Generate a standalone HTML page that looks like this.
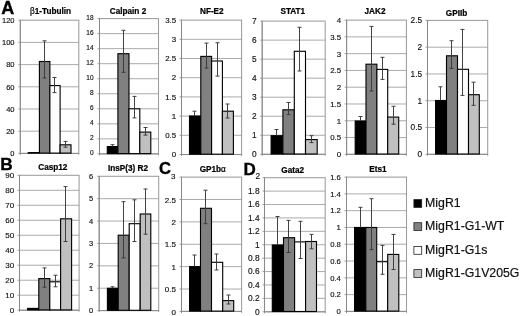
<!DOCTYPE html>
<html><head><meta charset="utf-8"><title>Figure</title>
<style>
html,body{margin:0;padding:0;background:#fff;}
body{width:520px;height:316px;overflow:hidden;font-family:"Liberation Sans",sans-serif;}
svg{display:block;filter:blur(0.3px);}
svg text{font-family:"Liberation Sans",sans-serif;}
.t{font-size:8.2px;font-weight:bold;fill:#000;stroke:#000;stroke-width:0.22px;text-anchor:middle;}
.a{fill:#111;stroke:#111;stroke-width:0.15px;text-anchor:end;}
.p{font-weight:bold;fill:#000;stroke:#000;stroke-width:0.35px;}
.l{font-size:12.3px;fill:#111;stroke:#111;stroke-width:0.2px;}
</style></head>
<body>
<svg width="520" height="316" viewBox="0 0 520 316">
<rect x="0" y="0" width="520" height="316" fill="#fff"/>
<g>
<rect x="20.3" y="20.2" width="58.5" height="133.2" fill="#fff" stroke="#9c9c9c" stroke-width="1.05"/>
<line x1="18.3" y1="20.2" x2="20.3" y2="20.2" stroke="#878787" stroke-width="0.8"/>
<text class="a" x="14.5" y="23" font-size="7.5">120</text>
<line x1="20.3" y1="42.4" x2="78.8" y2="42.4" stroke="#969696" stroke-width="0.8"/>
<line x1="18.3" y1="42.4" x2="20.3" y2="42.4" stroke="#878787" stroke-width="0.8"/>
<text class="a" x="14.5" y="45.2" font-size="7.5">100</text>
<line x1="20.3" y1="64.6" x2="78.8" y2="64.6" stroke="#969696" stroke-width="0.8"/>
<line x1="18.3" y1="64.6" x2="20.3" y2="64.6" stroke="#878787" stroke-width="0.8"/>
<text class="a" x="14.5" y="67.4" font-size="7.5">80</text>
<line x1="20.3" y1="86.8" x2="78.8" y2="86.8" stroke="#969696" stroke-width="0.8"/>
<line x1="18.3" y1="86.8" x2="20.3" y2="86.8" stroke="#878787" stroke-width="0.8"/>
<text class="a" x="14.5" y="89.6" font-size="7.5">60</text>
<line x1="20.3" y1="109" x2="78.8" y2="109" stroke="#969696" stroke-width="0.8"/>
<line x1="18.3" y1="109" x2="20.3" y2="109" stroke="#878787" stroke-width="0.8"/>
<text class="a" x="14.5" y="111.8" font-size="7.5">40</text>
<line x1="20.3" y1="131.2" x2="78.8" y2="131.2" stroke="#969696" stroke-width="0.8"/>
<line x1="18.3" y1="131.2" x2="20.3" y2="131.2" stroke="#878787" stroke-width="0.8"/>
<text class="a" x="14.5" y="134" font-size="7.5">20</text>
<line x1="18.3" y1="153.4" x2="20.3" y2="153.4" stroke="#878787" stroke-width="0.8"/>
<text class="a" x="14.5" y="156.2" font-size="7.5">0</text>
<line x1="20.3" y1="20.2" x2="20.3" y2="154.9" stroke="#878787" stroke-width="0.9"/>
<line x1="20.3" y1="153.4" x2="78.8" y2="153.4" stroke="#878787" stroke-width="0.9"/>
<line x1="78.8" y1="153.4" x2="78.8" y2="154.9" stroke="#878787" stroke-width="0.8"/>
<rect x="28.2" y="152.6" width="11.2" height="0.5" fill="#000000" stroke="#000" stroke-width="1.12"/>
<rect x="39.4" y="61.5" width="10.5" height="91.6" fill="#808080" stroke="#000" stroke-width="1.12"/>
<rect x="49.9" y="85.6" width="10.2" height="67.5" fill="#ffffff" stroke="#000" stroke-width="1.12"/>
<rect x="60.1" y="144.8" width="10.9" height="8.3" fill="#c0c0c0" stroke="#000" stroke-width="1.12"/>
<path d="M44.5 40.8V78M42.5 40.8H46.5M42.5 78H46.5" fill="none" stroke="#383838" stroke-width="0.95"/>
<path d="M54.5 77.5V92.6M52.5 77.5H56.5M52.5 92.6H56.5" fill="none" stroke="#383838" stroke-width="0.95"/>
<path d="M65.5 141.4V147.2M63.5 141.4H67.5M63.5 147.2H67.5" fill="none" stroke="#383838" stroke-width="0.95"/>
<text class="t" x="50.5" y="14.3"><tspan font-weight='normal'>β</tspan>1-Tubulin</text>
</g>
<g>
<rect x="99.5" y="18.6" width="59" height="135.3" fill="#fff" stroke="#9c9c9c" stroke-width="1.05"/>
<line x1="97.5" y1="18.6" x2="99.5" y2="18.6" stroke="#878787" stroke-width="0.8"/>
<text class="a" x="93.6" y="20" font-size="6.5">18</text>
<line x1="99.5" y1="33.63" x2="158.5" y2="33.63" stroke="#969696" stroke-width="0.8"/>
<line x1="97.5" y1="33.63" x2="99.5" y2="33.63" stroke="#878787" stroke-width="0.8"/>
<text class="a" x="93.6" y="35.03" font-size="6.5">16</text>
<line x1="99.5" y1="48.67" x2="158.5" y2="48.67" stroke="#969696" stroke-width="0.8"/>
<line x1="97.5" y1="48.67" x2="99.5" y2="48.67" stroke="#878787" stroke-width="0.8"/>
<text class="a" x="93.6" y="50.07" font-size="6.5">14</text>
<line x1="99.5" y1="63.7" x2="158.5" y2="63.7" stroke="#969696" stroke-width="0.8"/>
<line x1="97.5" y1="63.7" x2="99.5" y2="63.7" stroke="#878787" stroke-width="0.8"/>
<text class="a" x="93.6" y="65.1" font-size="6.5">12</text>
<line x1="99.5" y1="78.73" x2="158.5" y2="78.73" stroke="#969696" stroke-width="0.8"/>
<line x1="97.5" y1="78.73" x2="99.5" y2="78.73" stroke="#878787" stroke-width="0.8"/>
<text class="a" x="93.6" y="80.13" font-size="6.5">10</text>
<line x1="99.5" y1="93.77" x2="158.5" y2="93.77" stroke="#969696" stroke-width="0.8"/>
<line x1="97.5" y1="93.77" x2="99.5" y2="93.77" stroke="#878787" stroke-width="0.8"/>
<text class="a" x="93.6" y="95.17" font-size="6.5">8</text>
<line x1="99.5" y1="108.8" x2="158.5" y2="108.8" stroke="#969696" stroke-width="0.8"/>
<line x1="97.5" y1="108.8" x2="99.5" y2="108.8" stroke="#878787" stroke-width="0.8"/>
<text class="a" x="93.6" y="110.2" font-size="6.5">6</text>
<line x1="99.5" y1="123.83" x2="158.5" y2="123.83" stroke="#969696" stroke-width="0.8"/>
<line x1="97.5" y1="123.83" x2="99.5" y2="123.83" stroke="#878787" stroke-width="0.8"/>
<text class="a" x="93.6" y="125.23" font-size="6.5">4</text>
<line x1="99.5" y1="138.87" x2="158.5" y2="138.87" stroke="#969696" stroke-width="0.8"/>
<line x1="97.5" y1="138.87" x2="99.5" y2="138.87" stroke="#878787" stroke-width="0.8"/>
<text class="a" x="93.6" y="140.27" font-size="6.5">2</text>
<line x1="97.5" y1="153.9" x2="99.5" y2="153.9" stroke="#878787" stroke-width="0.8"/>
<text class="a" x="93.6" y="155.3" font-size="6.5">0</text>
<line x1="99.5" y1="18.6" x2="99.5" y2="155.4" stroke="#878787" stroke-width="0.9"/>
<line x1="99.5" y1="153.9" x2="158.5" y2="153.9" stroke="#878787" stroke-width="0.9"/>
<line x1="158.5" y1="153.9" x2="158.5" y2="155.4" stroke="#878787" stroke-width="0.8"/>
<rect x="107.3" y="146.6" width="10.6" height="7" fill="#000000" stroke="#000" stroke-width="1.12"/>
<rect x="117.9" y="53.7" width="11.1" height="99.9" fill="#808080" stroke="#000" stroke-width="1.12"/>
<rect x="129" y="108.8" width="10.8" height="44.8" fill="#ffffff" stroke="#000" stroke-width="1.12"/>
<rect x="139.8" y="132.1" width="11" height="21.5" fill="#c0c0c0" stroke="#000" stroke-width="1.12"/>
<path d="M112.5 144.7V146.6M110.5 144.7H114.5" fill="none" stroke="#383838" stroke-width="0.95"/>
<path d="M123.5 30.3V72.3M121.5 30.3H125.5M121.5 72.3H125.5" fill="none" stroke="#383838" stroke-width="0.95"/>
<path d="M134.5 96.4V117.9M132.5 96.4H136.5M132.5 117.9H136.5" fill="none" stroke="#383838" stroke-width="0.95"/>
<path d="M145.5 127.5V135.1M143.5 127.5H147.5M143.5 135.1H147.5" fill="none" stroke="#383838" stroke-width="0.95"/>
<text class="t" x="128" y="14.2">Calpain 2</text>
</g>
<g>
<rect x="181.5" y="20.1" width="60.1" height="134.4" fill="#fff" stroke="#9c9c9c" stroke-width="1.05"/>
<line x1="179.5" y1="20.1" x2="181.5" y2="20.1" stroke="#878787" stroke-width="0.8"/>
<text class="a" x="176.2" y="22.8" font-size="7.9">3.5</text>
<line x1="181.5" y1="39.3" x2="241.6" y2="39.3" stroke="#969696" stroke-width="0.8"/>
<line x1="179.5" y1="39.3" x2="181.5" y2="39.3" stroke="#878787" stroke-width="0.8"/>
<text class="a" x="176.2" y="42" font-size="7.9">3</text>
<line x1="181.5" y1="58.5" x2="241.6" y2="58.5" stroke="#969696" stroke-width="0.8"/>
<line x1="179.5" y1="58.5" x2="181.5" y2="58.5" stroke="#878787" stroke-width="0.8"/>
<text class="a" x="176.2" y="61.2" font-size="7.9">2.5</text>
<line x1="181.5" y1="77.7" x2="241.6" y2="77.7" stroke="#969696" stroke-width="0.8"/>
<line x1="179.5" y1="77.7" x2="181.5" y2="77.7" stroke="#878787" stroke-width="0.8"/>
<text class="a" x="176.2" y="80.4" font-size="7.9">2</text>
<line x1="181.5" y1="96.9" x2="241.6" y2="96.9" stroke="#969696" stroke-width="0.8"/>
<line x1="179.5" y1="96.9" x2="181.5" y2="96.9" stroke="#878787" stroke-width="0.8"/>
<text class="a" x="176.2" y="99.6" font-size="7.9">1.5</text>
<line x1="181.5" y1="116.1" x2="241.6" y2="116.1" stroke="#969696" stroke-width="0.8"/>
<line x1="179.5" y1="116.1" x2="181.5" y2="116.1" stroke="#878787" stroke-width="0.8"/>
<text class="a" x="176.2" y="118.8" font-size="7.9">1</text>
<line x1="181.5" y1="135.3" x2="241.6" y2="135.3" stroke="#969696" stroke-width="0.8"/>
<line x1="179.5" y1="135.3" x2="181.5" y2="135.3" stroke="#878787" stroke-width="0.8"/>
<text class="a" x="176.2" y="138" font-size="7.9">0.5</text>
<line x1="179.5" y1="154.5" x2="181.5" y2="154.5" stroke="#878787" stroke-width="0.8"/>
<text class="a" x="176.2" y="157.2" font-size="7.9">0</text>
<line x1="181.5" y1="20.1" x2="181.5" y2="156" stroke="#878787" stroke-width="0.9"/>
<line x1="181.5" y1="154.5" x2="241.6" y2="154.5" stroke="#878787" stroke-width="0.9"/>
<line x1="241.6" y1="154.5" x2="241.6" y2="156" stroke="#878787" stroke-width="0.8"/>
<rect x="189.5" y="116" width="11.3" height="38.2" fill="#000000" stroke="#000" stroke-width="1.12"/>
<rect x="200.8" y="56.4" width="10.8" height="97.8" fill="#808080" stroke="#000" stroke-width="1.12"/>
<rect x="211.6" y="61" width="10.8" height="93.2" fill="#ffffff" stroke="#000" stroke-width="1.12"/>
<rect x="222.4" y="111.2" width="11" height="43" fill="#c0c0c0" stroke="#000" stroke-width="1.12"/>
<path d="M194.5 111.2V116M192.5 111.2H196.5" fill="none" stroke="#383838" stroke-width="0.95"/>
<path d="M206.5 43.1V68M204.5 43.1H208.5M204.5 68H208.5" fill="none" stroke="#383838" stroke-width="0.95"/>
<path d="M217.5 42.7V76.1M215.5 42.7H219.5M215.5 76.1H219.5" fill="none" stroke="#383838" stroke-width="0.95"/>
<path d="M227.5 104V118M225.5 104H229.5M225.5 118H229.5" fill="none" stroke="#383838" stroke-width="0.95"/>
<text class="t" x="211.8" y="13.8">NF-E2</text>
</g>
<g>
<rect x="262.2" y="21.1" width="63" height="133.2" fill="#fff" stroke="#9c9c9c" stroke-width="1.05"/>
<line x1="260.2" y1="21.1" x2="262.2" y2="21.1" stroke="#878787" stroke-width="0.8"/>
<text class="a" x="256.5" y="23.7" font-size="8.3">7</text>
<line x1="262.2" y1="40.13" x2="325.2" y2="40.13" stroke="#969696" stroke-width="0.8"/>
<line x1="260.2" y1="40.13" x2="262.2" y2="40.13" stroke="#878787" stroke-width="0.8"/>
<text class="a" x="256.5" y="42.73" font-size="8.3">6</text>
<line x1="262.2" y1="59.16" x2="325.2" y2="59.16" stroke="#969696" stroke-width="0.8"/>
<line x1="260.2" y1="59.16" x2="262.2" y2="59.16" stroke="#878787" stroke-width="0.8"/>
<text class="a" x="256.5" y="61.76" font-size="8.3">5</text>
<line x1="262.2" y1="78.19" x2="325.2" y2="78.19" stroke="#969696" stroke-width="0.8"/>
<line x1="260.2" y1="78.19" x2="262.2" y2="78.19" stroke="#878787" stroke-width="0.8"/>
<text class="a" x="256.5" y="80.79" font-size="8.3">4</text>
<line x1="262.2" y1="97.21" x2="325.2" y2="97.21" stroke="#969696" stroke-width="0.8"/>
<line x1="260.2" y1="97.21" x2="262.2" y2="97.21" stroke="#878787" stroke-width="0.8"/>
<text class="a" x="256.5" y="99.81" font-size="8.3">3</text>
<line x1="262.2" y1="116.24" x2="325.2" y2="116.24" stroke="#969696" stroke-width="0.8"/>
<line x1="260.2" y1="116.24" x2="262.2" y2="116.24" stroke="#878787" stroke-width="0.8"/>
<text class="a" x="256.5" y="118.84" font-size="8.3">2</text>
<line x1="262.2" y1="135.27" x2="325.2" y2="135.27" stroke="#969696" stroke-width="0.8"/>
<line x1="260.2" y1="135.27" x2="262.2" y2="135.27" stroke="#878787" stroke-width="0.8"/>
<text class="a" x="256.5" y="137.87" font-size="8.3">1</text>
<line x1="260.2" y1="154.3" x2="262.2" y2="154.3" stroke="#878787" stroke-width="0.8"/>
<text class="a" x="256.5" y="156.9" font-size="8.3">0</text>
<line x1="262.2" y1="21.1" x2="262.2" y2="155.8" stroke="#878787" stroke-width="0.9"/>
<line x1="262.2" y1="154.3" x2="325.2" y2="154.3" stroke="#878787" stroke-width="0.9"/>
<line x1="325.2" y1="154.3" x2="325.2" y2="155.8" stroke="#878787" stroke-width="0.8"/>
<rect x="271.1" y="135.7" width="11.8" height="18.3" fill="#000000" stroke="#000" stroke-width="1.12"/>
<rect x="282.9" y="109.8" width="11.4" height="44.2" fill="#808080" stroke="#000" stroke-width="1.12"/>
<rect x="294.3" y="51.3" width="11.2" height="102.7" fill="#ffffff" stroke="#000" stroke-width="1.12"/>
<rect x="305.5" y="139.6" width="11.7" height="14.4" fill="#c0c0c0" stroke="#000" stroke-width="1.12"/>
<path d="M276.5 129.5V135.7M274.5 129.5H278.5" fill="none" stroke="#383838" stroke-width="0.95"/>
<path d="M288.5 102.5V114.6M286.5 102.5H290.5M286.5 114.6H290.5" fill="none" stroke="#383838" stroke-width="0.95"/>
<path d="M299.5 27.3V71M297.5 27.3H301.5M297.5 71H301.5" fill="none" stroke="#383838" stroke-width="0.95"/>
<path d="M311.5 135.7V142.6M309.5 135.7H313.5M309.5 142.6H313.5" fill="none" stroke="#383838" stroke-width="0.95"/>
<text class="t" x="292.8" y="13.7">STAT1</text>
</g>
<g>
<rect x="346.6" y="20.1" width="59.8" height="134.2" fill="#fff" stroke="#9c9c9c" stroke-width="1.05"/>
<line x1="344.6" y1="20.1" x2="346.6" y2="20.1" stroke="#878787" stroke-width="0.8"/>
<text class="a" x="341.2" y="23" font-size="7.9">4</text>
<line x1="346.6" y1="36.88" x2="406.4" y2="36.88" stroke="#969696" stroke-width="0.8"/>
<line x1="344.6" y1="36.88" x2="346.6" y2="36.88" stroke="#878787" stroke-width="0.8"/>
<text class="a" x="341.2" y="39.77" font-size="7.9">3.5</text>
<line x1="346.6" y1="53.65" x2="406.4" y2="53.65" stroke="#969696" stroke-width="0.8"/>
<line x1="344.6" y1="53.65" x2="346.6" y2="53.65" stroke="#878787" stroke-width="0.8"/>
<text class="a" x="341.2" y="56.55" font-size="7.9">3</text>
<line x1="346.6" y1="70.43" x2="406.4" y2="70.43" stroke="#969696" stroke-width="0.8"/>
<line x1="344.6" y1="70.43" x2="346.6" y2="70.43" stroke="#878787" stroke-width="0.8"/>
<text class="a" x="341.2" y="73.33" font-size="7.9">2.5</text>
<line x1="346.6" y1="87.2" x2="406.4" y2="87.2" stroke="#969696" stroke-width="0.8"/>
<line x1="344.6" y1="87.2" x2="346.6" y2="87.2" stroke="#878787" stroke-width="0.8"/>
<text class="a" x="341.2" y="90.1" font-size="7.9">2</text>
<line x1="346.6" y1="103.98" x2="406.4" y2="103.98" stroke="#969696" stroke-width="0.8"/>
<line x1="344.6" y1="103.98" x2="346.6" y2="103.98" stroke="#878787" stroke-width="0.8"/>
<text class="a" x="341.2" y="106.88" font-size="7.9">1.5</text>
<line x1="346.6" y1="120.75" x2="406.4" y2="120.75" stroke="#969696" stroke-width="0.8"/>
<line x1="344.6" y1="120.75" x2="346.6" y2="120.75" stroke="#878787" stroke-width="0.8"/>
<text class="a" x="341.2" y="123.65" font-size="7.9">1</text>
<line x1="346.6" y1="137.53" x2="406.4" y2="137.53" stroke="#969696" stroke-width="0.8"/>
<line x1="344.6" y1="137.53" x2="346.6" y2="137.53" stroke="#878787" stroke-width="0.8"/>
<text class="a" x="341.2" y="140.43" font-size="7.9">0.5</text>
<line x1="344.6" y1="154.3" x2="346.6" y2="154.3" stroke="#878787" stroke-width="0.8"/>
<text class="a" x="341.2" y="157.2" font-size="7.9">0</text>
<line x1="346.6" y1="20.1" x2="346.6" y2="155.8" stroke="#878787" stroke-width="0.9"/>
<line x1="346.6" y1="154.3" x2="406.4" y2="154.3" stroke="#878787" stroke-width="0.9"/>
<line x1="406.4" y1="154.3" x2="406.4" y2="155.8" stroke="#878787" stroke-width="0.8"/>
<rect x="355.2" y="121" width="10.8" height="33" fill="#000000" stroke="#000" stroke-width="1.12"/>
<rect x="366" y="64.2" width="10.9" height="89.8" fill="#808080" stroke="#000" stroke-width="1.12"/>
<rect x="376.9" y="69.4" width="10.8" height="84.6" fill="#ffffff" stroke="#000" stroke-width="1.12"/>
<rect x="387.7" y="117.1" width="11" height="36.9" fill="#c0c0c0" stroke="#000" stroke-width="1.12"/>
<path d="M360.5 116.5V121M358.5 116.5H362.5" fill="none" stroke="#383838" stroke-width="0.95"/>
<path d="M371.5 26.4V91M369.5 26.4H373.5M369.5 91H373.5" fill="none" stroke="#383838" stroke-width="0.95"/>
<path d="M382.5 57.3V79.4M380.5 57.3H384.5M380.5 79.4H384.5" fill="none" stroke="#383838" stroke-width="0.95"/>
<path d="M393.5 106.3V124.2M391.5 106.3H395.5M391.5 124.2H395.5" fill="none" stroke="#383838" stroke-width="0.95"/>
<text class="t" x="375" y="13.6">JAK2</text>
</g>
<g>
<rect x="427.5" y="20.4" width="60.2" height="133.9" fill="#fff" stroke="#9c9c9c" stroke-width="1.05"/>
<line x1="425.5" y1="20.4" x2="427.5" y2="20.4" stroke="#878787" stroke-width="0.8"/>
<text class="a" x="422.1" y="23.3" font-size="8.3">2.5</text>
<line x1="427.5" y1="47.18" x2="487.7" y2="47.18" stroke="#969696" stroke-width="0.8"/>
<line x1="425.5" y1="47.18" x2="427.5" y2="47.18" stroke="#878787" stroke-width="0.8"/>
<text class="a" x="422.1" y="50.08" font-size="8.3">2</text>
<line x1="427.5" y1="73.96" x2="487.7" y2="73.96" stroke="#969696" stroke-width="0.8"/>
<line x1="425.5" y1="73.96" x2="427.5" y2="73.96" stroke="#878787" stroke-width="0.8"/>
<text class="a" x="422.1" y="76.86" font-size="8.3">1.5</text>
<line x1="427.5" y1="100.74" x2="487.7" y2="100.74" stroke="#969696" stroke-width="0.8"/>
<line x1="425.5" y1="100.74" x2="427.5" y2="100.74" stroke="#878787" stroke-width="0.8"/>
<text class="a" x="422.1" y="103.64" font-size="8.3">1</text>
<line x1="427.5" y1="127.52" x2="487.7" y2="127.52" stroke="#969696" stroke-width="0.8"/>
<line x1="425.5" y1="127.52" x2="427.5" y2="127.52" stroke="#878787" stroke-width="0.8"/>
<text class="a" x="422.1" y="130.42" font-size="8.3">0.5</text>
<line x1="425.5" y1="154.3" x2="427.5" y2="154.3" stroke="#878787" stroke-width="0.8"/>
<text class="a" x="422.1" y="157.2" font-size="8.3">0</text>
<line x1="427.5" y1="20.4" x2="427.5" y2="155.8" stroke="#878787" stroke-width="0.9"/>
<line x1="427.5" y1="154.3" x2="487.7" y2="154.3" stroke="#878787" stroke-width="0.9"/>
<line x1="487.7" y1="154.3" x2="487.7" y2="155.8" stroke="#878787" stroke-width="0.8"/>
<rect x="435.6" y="100.5" width="10.9" height="53.5" fill="#000000" stroke="#000" stroke-width="1.12"/>
<rect x="446.5" y="55.8" width="11" height="98.2" fill="#808080" stroke="#000" stroke-width="1.12"/>
<rect x="457.5" y="69.3" width="11" height="84.7" fill="#ffffff" stroke="#000" stroke-width="1.12"/>
<rect x="468.5" y="94.7" width="10.8" height="59.3" fill="#c0c0c0" stroke="#000" stroke-width="1.12"/>
<path d="M440.5 86.8V100.5M438.5 86.8H442.5" fill="none" stroke="#383838" stroke-width="0.95"/>
<path d="M451.5 40.7V68.4M449.5 40.7H453.5M449.5 68.4H453.5" fill="none" stroke="#383838" stroke-width="0.95"/>
<path d="M462.5 29.4V95.4M460.5 29.4H464.5M460.5 95.4H464.5" fill="none" stroke="#383838" stroke-width="0.95"/>
<path d="M473.5 82.2V105.3M471.5 82.2H475.5M471.5 105.3H475.5" fill="none" stroke="#383838" stroke-width="0.95"/>
<text class="t" x="456.5" y="15.7">GPIIb</text>
</g>
<g>
<rect x="19.5" y="175.3" width="59.6" height="134.9" fill="#fff" stroke="#9c9c9c" stroke-width="1.05"/>
<line x1="17.5" y1="175.3" x2="19.5" y2="175.3" stroke="#878787" stroke-width="0.8"/>
<text class="a" x="14.2" y="177.6" font-size="8">90</text>
<line x1="19.5" y1="190.29" x2="79.1" y2="190.29" stroke="#969696" stroke-width="0.8"/>
<line x1="17.5" y1="190.29" x2="19.5" y2="190.29" stroke="#878787" stroke-width="0.8"/>
<text class="a" x="14.2" y="193.29" font-size="8">80</text>
<line x1="19.5" y1="205.28" x2="79.1" y2="205.28" stroke="#969696" stroke-width="0.8"/>
<line x1="17.5" y1="205.28" x2="19.5" y2="205.28" stroke="#878787" stroke-width="0.8"/>
<text class="a" x="14.2" y="208.28" font-size="8">70</text>
<line x1="19.5" y1="220.27" x2="79.1" y2="220.27" stroke="#969696" stroke-width="0.8"/>
<line x1="17.5" y1="220.27" x2="19.5" y2="220.27" stroke="#878787" stroke-width="0.8"/>
<text class="a" x="14.2" y="223.27" font-size="8">60</text>
<line x1="19.5" y1="235.26" x2="79.1" y2="235.26" stroke="#969696" stroke-width="0.8"/>
<line x1="17.5" y1="235.26" x2="19.5" y2="235.26" stroke="#878787" stroke-width="0.8"/>
<text class="a" x="14.2" y="238.26" font-size="8">50</text>
<line x1="19.5" y1="250.24" x2="79.1" y2="250.24" stroke="#969696" stroke-width="0.8"/>
<line x1="17.5" y1="250.24" x2="19.5" y2="250.24" stroke="#878787" stroke-width="0.8"/>
<text class="a" x="14.2" y="253.24" font-size="8">40</text>
<line x1="19.5" y1="265.23" x2="79.1" y2="265.23" stroke="#969696" stroke-width="0.8"/>
<line x1="17.5" y1="265.23" x2="19.5" y2="265.23" stroke="#878787" stroke-width="0.8"/>
<text class="a" x="14.2" y="268.23" font-size="8">30</text>
<line x1="19.5" y1="280.22" x2="79.1" y2="280.22" stroke="#969696" stroke-width="0.8"/>
<line x1="17.5" y1="280.22" x2="19.5" y2="280.22" stroke="#878787" stroke-width="0.8"/>
<text class="a" x="14.2" y="283.22" font-size="8">20</text>
<line x1="19.5" y1="295.21" x2="79.1" y2="295.21" stroke="#969696" stroke-width="0.8"/>
<line x1="17.5" y1="295.21" x2="19.5" y2="295.21" stroke="#878787" stroke-width="0.8"/>
<text class="a" x="14.2" y="298.21" font-size="8">10</text>
<line x1="17.5" y1="310.2" x2="19.5" y2="310.2" stroke="#878787" stroke-width="0.8"/>
<text class="a" x="14.2" y="313.2" font-size="8">0</text>
<line x1="19.5" y1="175.3" x2="19.5" y2="311.7" stroke="#878787" stroke-width="0.9"/>
<line x1="19.5" y1="310.2" x2="79.1" y2="310.2" stroke="#878787" stroke-width="0.9"/>
<line x1="79.1" y1="310.2" x2="79.1" y2="311.7" stroke="#878787" stroke-width="0.8"/>
<rect x="27.6" y="308.4" width="11.2" height="1.5" fill="#000000" stroke="#000" stroke-width="1.12"/>
<rect x="38.8" y="278.6" width="11" height="31.3" fill="#808080" stroke="#000" stroke-width="1.12"/>
<rect x="49.8" y="281.8" width="10.8" height="28.1" fill="#ffffff" stroke="#000" stroke-width="1.12"/>
<rect x="60.6" y="218.8" width="11" height="91.1" fill="#c0c0c0" stroke="#000" stroke-width="1.12"/>
<path d="M44.5 267.9V287.2M42.5 267.9H46.5M42.5 287.2H46.5" fill="none" stroke="#383838" stroke-width="0.95"/>
<path d="M55.5 275.2V286.8M53.5 275.2H57.5M53.5 286.8H57.5" fill="none" stroke="#383838" stroke-width="0.95"/>
<path d="M65.5 186.6V241.5M63.5 186.6H67.5M63.5 241.5H67.5" fill="none" stroke="#383838" stroke-width="0.95"/>
<text class="t" x="52.8" y="169.6">Casp12</text>
</g>
<g>
<rect x="99.2" y="176.3" width="59.5" height="134.3" fill="#fff" stroke="#9c9c9c" stroke-width="1.05"/>
<line x1="97.2" y1="176.3" x2="99.2" y2="176.3" stroke="#878787" stroke-width="0.8"/>
<text class="a" x="93.1" y="178.8" font-size="7.5">6</text>
<line x1="99.2" y1="198.68" x2="158.7" y2="198.68" stroke="#969696" stroke-width="0.8"/>
<line x1="97.2" y1="198.68" x2="99.2" y2="198.68" stroke="#878787" stroke-width="0.8"/>
<text class="a" x="93.1" y="201.18" font-size="7.5">5</text>
<line x1="99.2" y1="221.07" x2="158.7" y2="221.07" stroke="#969696" stroke-width="0.8"/>
<line x1="97.2" y1="221.07" x2="99.2" y2="221.07" stroke="#878787" stroke-width="0.8"/>
<text class="a" x="93.1" y="223.57" font-size="7.5">4</text>
<line x1="99.2" y1="243.45" x2="158.7" y2="243.45" stroke="#969696" stroke-width="0.8"/>
<line x1="97.2" y1="243.45" x2="99.2" y2="243.45" stroke="#878787" stroke-width="0.8"/>
<text class="a" x="93.1" y="245.95" font-size="7.5">3</text>
<line x1="99.2" y1="265.83" x2="158.7" y2="265.83" stroke="#969696" stroke-width="0.8"/>
<line x1="97.2" y1="265.83" x2="99.2" y2="265.83" stroke="#878787" stroke-width="0.8"/>
<text class="a" x="93.1" y="268.33" font-size="7.5">2</text>
<line x1="99.2" y1="288.22" x2="158.7" y2="288.22" stroke="#969696" stroke-width="0.8"/>
<line x1="97.2" y1="288.22" x2="99.2" y2="288.22" stroke="#878787" stroke-width="0.8"/>
<text class="a" x="93.1" y="290.72" font-size="7.5">1</text>
<line x1="97.2" y1="310.6" x2="99.2" y2="310.6" stroke="#878787" stroke-width="0.8"/>
<text class="a" x="93.1" y="313.1" font-size="7.5">0</text>
<line x1="99.2" y1="176.3" x2="99.2" y2="312.1" stroke="#878787" stroke-width="0.9"/>
<line x1="99.2" y1="310.6" x2="158.7" y2="310.6" stroke="#878787" stroke-width="0.9"/>
<line x1="158.7" y1="310.6" x2="158.7" y2="312.1" stroke="#878787" stroke-width="0.8"/>
<rect x="107.4" y="288.3" width="10.8" height="22" fill="#000000" stroke="#000" stroke-width="1.12"/>
<rect x="118.2" y="235.2" width="11" height="75.1" fill="#808080" stroke="#000" stroke-width="1.12"/>
<rect x="129.2" y="223.7" width="11" height="86.6" fill="#ffffff" stroke="#000" stroke-width="1.12"/>
<rect x="140.2" y="214" width="10.6" height="96.3" fill="#c0c0c0" stroke="#000" stroke-width="1.12"/>
<path d="M112.5 286.8V288.3M110.5 286.8H114.5" fill="none" stroke="#383838" stroke-width="0.95"/>
<path d="M123.5 201.7V257.9M121.5 201.7H125.5M121.5 257.9H125.5" fill="none" stroke="#383838" stroke-width="0.95"/>
<path d="M134.5 199.8V241.5M132.5 199.8H136.5M132.5 241.5H136.5" fill="none" stroke="#383838" stroke-width="0.95"/>
<path d="M145.5 189V234.2M143.5 189H147.5M143.5 234.2H147.5" fill="none" stroke="#383838" stroke-width="0.95"/>
<text class="t" x="128" y="170.5">InsP(3) R2</text>
</g>
<g>
<rect x="181.5" y="177.1" width="60.1" height="134.3" fill="#fff" stroke="#9c9c9c" stroke-width="1.05"/>
<line x1="179.5" y1="177.1" x2="181.5" y2="177.1" stroke="#878787" stroke-width="0.8"/>
<text class="a" x="175.4" y="179.2" font-size="8">3</text>
<line x1="181.5" y1="199.48" x2="241.6" y2="199.48" stroke="#969696" stroke-width="0.8"/>
<line x1="179.5" y1="199.48" x2="181.5" y2="199.48" stroke="#878787" stroke-width="0.8"/>
<text class="a" x="175.9" y="202.58" font-size="8">2.5</text>
<line x1="181.5" y1="221.87" x2="241.6" y2="221.87" stroke="#969696" stroke-width="0.8"/>
<line x1="179.5" y1="221.87" x2="181.5" y2="221.87" stroke="#878787" stroke-width="0.8"/>
<text class="a" x="175.9" y="224.97" font-size="8">2</text>
<line x1="181.5" y1="244.25" x2="241.6" y2="244.25" stroke="#969696" stroke-width="0.8"/>
<line x1="179.5" y1="244.25" x2="181.5" y2="244.25" stroke="#878787" stroke-width="0.8"/>
<text class="a" x="175.9" y="247.35" font-size="8">1.5</text>
<line x1="181.5" y1="266.63" x2="241.6" y2="266.63" stroke="#969696" stroke-width="0.8"/>
<line x1="179.5" y1="266.63" x2="181.5" y2="266.63" stroke="#878787" stroke-width="0.8"/>
<text class="a" x="175.9" y="269.73" font-size="8">1</text>
<line x1="181.5" y1="289.02" x2="241.6" y2="289.02" stroke="#969696" stroke-width="0.8"/>
<line x1="179.5" y1="289.02" x2="181.5" y2="289.02" stroke="#878787" stroke-width="0.8"/>
<text class="a" x="175.9" y="292.12" font-size="8">0.5</text>
<line x1="179.5" y1="311.4" x2="181.5" y2="311.4" stroke="#878787" stroke-width="0.8"/>
<text class="a" x="175.9" y="314.5" font-size="8">0</text>
<line x1="181.5" y1="177.1" x2="181.5" y2="312.9" stroke="#878787" stroke-width="0.9"/>
<line x1="181.5" y1="311.4" x2="241.6" y2="311.4" stroke="#878787" stroke-width="0.9"/>
<line x1="241.6" y1="311.4" x2="241.6" y2="312.9" stroke="#878787" stroke-width="0.8"/>
<rect x="189.6" y="266.6" width="10.9" height="44.5" fill="#000000" stroke="#000" stroke-width="1.12"/>
<rect x="200.5" y="208.3" width="11" height="102.8" fill="#808080" stroke="#000" stroke-width="1.12"/>
<rect x="211.5" y="262.3" width="11.2" height="48.8" fill="#ffffff" stroke="#000" stroke-width="1.12"/>
<rect x="222.7" y="300.6" width="11" height="10.5" fill="#c0c0c0" stroke="#000" stroke-width="1.12"/>
<path d="M194.5 255V266.6M192.5 255H196.5" fill="none" stroke="#383838" stroke-width="0.95"/>
<path d="M205.5 190.2V223.7M203.5 190.2H207.5M203.5 223.7H207.5" fill="none" stroke="#383838" stroke-width="0.95"/>
<path d="M216.5 254V270M214.5 254H218.5M214.5 270H218.5" fill="none" stroke="#383838" stroke-width="0.95"/>
<path d="M228.5 295V304M226.5 295H230.5M226.5 304H230.5" fill="none" stroke="#383838" stroke-width="0.95"/>
<text class="t" x="212.7" y="171.9">GP1b<tspan font-weight='normal'>α</tspan></text>
</g>
<g>
<rect x="264.5" y="177.7" width="60.7" height="134.1" fill="#fff" stroke="#9c9c9c" stroke-width="1.05"/>
<line x1="262.5" y1="177.7" x2="264.5" y2="177.7" stroke="#878787" stroke-width="0.8"/>
<text class="a" x="260.2" y="179.3" font-size="8.4">2</text>
<line x1="264.5" y1="191.11" x2="325.2" y2="191.11" stroke="#969696" stroke-width="0.8"/>
<line x1="262.5" y1="191.11" x2="264.5" y2="191.11" stroke="#878787" stroke-width="0.8"/>
<text class="a" x="259.6" y="194.01" font-size="8.4">1.8</text>
<line x1="264.5" y1="204.52" x2="325.2" y2="204.52" stroke="#969696" stroke-width="0.8"/>
<line x1="262.5" y1="204.52" x2="264.5" y2="204.52" stroke="#878787" stroke-width="0.8"/>
<text class="a" x="259.6" y="207.42" font-size="8.4">1.6</text>
<line x1="264.5" y1="217.93" x2="325.2" y2="217.93" stroke="#969696" stroke-width="0.8"/>
<line x1="262.5" y1="217.93" x2="264.5" y2="217.93" stroke="#878787" stroke-width="0.8"/>
<text class="a" x="259.6" y="220.83" font-size="8.4">1.4</text>
<line x1="264.5" y1="231.34" x2="325.2" y2="231.34" stroke="#969696" stroke-width="0.8"/>
<line x1="262.5" y1="231.34" x2="264.5" y2="231.34" stroke="#878787" stroke-width="0.8"/>
<text class="a" x="259.6" y="234.24" font-size="8.4">1.2</text>
<line x1="264.5" y1="244.75" x2="325.2" y2="244.75" stroke="#969696" stroke-width="0.8"/>
<line x1="262.5" y1="244.75" x2="264.5" y2="244.75" stroke="#878787" stroke-width="0.8"/>
<text class="a" x="259.6" y="247.65" font-size="8.4">1</text>
<line x1="264.5" y1="258.16" x2="325.2" y2="258.16" stroke="#969696" stroke-width="0.8"/>
<line x1="262.5" y1="258.16" x2="264.5" y2="258.16" stroke="#878787" stroke-width="0.8"/>
<text class="a" x="259.6" y="261.06" font-size="8.4">0.8</text>
<line x1="264.5" y1="271.57" x2="325.2" y2="271.57" stroke="#969696" stroke-width="0.8"/>
<line x1="262.5" y1="271.57" x2="264.5" y2="271.57" stroke="#878787" stroke-width="0.8"/>
<text class="a" x="259.6" y="274.47" font-size="8.4">0.6</text>
<line x1="264.5" y1="284.98" x2="325.2" y2="284.98" stroke="#969696" stroke-width="0.8"/>
<line x1="262.5" y1="284.98" x2="264.5" y2="284.98" stroke="#878787" stroke-width="0.8"/>
<text class="a" x="259.6" y="287.88" font-size="8.4">0.4</text>
<line x1="264.5" y1="298.39" x2="325.2" y2="298.39" stroke="#969696" stroke-width="0.8"/>
<line x1="262.5" y1="298.39" x2="264.5" y2="298.39" stroke="#878787" stroke-width="0.8"/>
<text class="a" x="259.6" y="301.29" font-size="8.4">0.2</text>
<line x1="262.5" y1="311.8" x2="264.5" y2="311.8" stroke="#878787" stroke-width="0.8"/>
<text class="a" x="259.6" y="314.7" font-size="8.4">0</text>
<line x1="264.5" y1="177.7" x2="264.5" y2="313.3" stroke="#878787" stroke-width="0.9"/>
<line x1="264.5" y1="311.8" x2="325.2" y2="311.8" stroke="#878787" stroke-width="0.9"/>
<line x1="325.2" y1="311.8" x2="325.2" y2="313.3" stroke="#878787" stroke-width="0.8"/>
<rect x="272.3" y="245" width="11.2" height="66.5" fill="#000000" stroke="#000" stroke-width="1.12"/>
<rect x="283.5" y="237.7" width="11.1" height="73.8" fill="#808080" stroke="#000" stroke-width="1.12"/>
<rect x="294.6" y="241.9" width="11" height="69.6" fill="#ffffff" stroke="#000" stroke-width="1.12"/>
<rect x="305.6" y="241.5" width="10.9" height="70" fill="#c0c0c0" stroke="#000" stroke-width="1.12"/>
<path d="M277.5 216.5V245M275.5 216.5H279.5" fill="none" stroke="#383838" stroke-width="0.95"/>
<path d="M288.5 220.4V252.5M286.5 220.4H290.5M286.5 252.5H290.5" fill="none" stroke="#383838" stroke-width="0.95"/>
<path d="M300.5 221.3V258.5M298.5 221.3H302.5M298.5 258.5H302.5" fill="none" stroke="#383838" stroke-width="0.95"/>
<path d="M311.5 234.4V248.8M309.5 234.4H313.5M309.5 248.8H313.5" fill="none" stroke="#383838" stroke-width="0.95"/>
<text class="t" x="292.7" y="172.5">Gata2</text>
</g>
<g>
<rect x="346.5" y="177.1" width="60" height="134.3" fill="#fff" stroke="#9c9c9c" stroke-width="1.05"/>
<line x1="344.5" y1="177.1" x2="346.5" y2="177.1" stroke="#878787" stroke-width="0.8"/>
<text class="a" x="340.9" y="179.9" font-size="7.7">1.6</text>
<line x1="346.5" y1="193.89" x2="406.5" y2="193.89" stroke="#969696" stroke-width="0.8"/>
<line x1="344.5" y1="193.89" x2="346.5" y2="193.89" stroke="#878787" stroke-width="0.8"/>
<text class="a" x="340.9" y="196.69" font-size="7.7">1.4</text>
<line x1="346.5" y1="210.67" x2="406.5" y2="210.67" stroke="#969696" stroke-width="0.8"/>
<line x1="344.5" y1="210.67" x2="346.5" y2="210.67" stroke="#878787" stroke-width="0.8"/>
<text class="a" x="340.9" y="213.47" font-size="7.7">1.2</text>
<line x1="346.5" y1="227.46" x2="406.5" y2="227.46" stroke="#969696" stroke-width="0.8"/>
<line x1="344.5" y1="227.46" x2="346.5" y2="227.46" stroke="#878787" stroke-width="0.8"/>
<text class="a" x="340.9" y="230.26" font-size="7.7">1</text>
<line x1="346.5" y1="244.25" x2="406.5" y2="244.25" stroke="#969696" stroke-width="0.8"/>
<line x1="344.5" y1="244.25" x2="346.5" y2="244.25" stroke="#878787" stroke-width="0.8"/>
<text class="a" x="340.9" y="247.05" font-size="7.7">0.8</text>
<line x1="346.5" y1="261.04" x2="406.5" y2="261.04" stroke="#969696" stroke-width="0.8"/>
<line x1="344.5" y1="261.04" x2="346.5" y2="261.04" stroke="#878787" stroke-width="0.8"/>
<text class="a" x="340.9" y="263.84" font-size="7.7">0.6</text>
<line x1="346.5" y1="277.82" x2="406.5" y2="277.82" stroke="#969696" stroke-width="0.8"/>
<line x1="344.5" y1="277.82" x2="346.5" y2="277.82" stroke="#878787" stroke-width="0.8"/>
<text class="a" x="340.9" y="280.62" font-size="7.7">0.4</text>
<line x1="346.5" y1="294.61" x2="406.5" y2="294.61" stroke="#969696" stroke-width="0.8"/>
<line x1="344.5" y1="294.61" x2="346.5" y2="294.61" stroke="#878787" stroke-width="0.8"/>
<text class="a" x="340.9" y="297.41" font-size="7.7">0.2</text>
<line x1="344.5" y1="311.4" x2="346.5" y2="311.4" stroke="#878787" stroke-width="0.8"/>
<text class="a" x="340.9" y="314.2" font-size="7.7">0</text>
<line x1="346.5" y1="177.1" x2="346.5" y2="312.9" stroke="#878787" stroke-width="0.9"/>
<line x1="346.5" y1="311.4" x2="406.5" y2="311.4" stroke="#878787" stroke-width="0.9"/>
<line x1="406.5" y1="311.4" x2="406.5" y2="312.9" stroke="#878787" stroke-width="0.8"/>
<rect x="354.6" y="227.5" width="11.2" height="83.6" fill="#000000" stroke="#000" stroke-width="1.12"/>
<rect x="365.8" y="227.5" width="10.9" height="83.6" fill="#808080" stroke="#000" stroke-width="1.12"/>
<rect x="376.7" y="261.7" width="11" height="49.4" fill="#ffffff" stroke="#000" stroke-width="1.12"/>
<rect x="387.7" y="254.4" width="11.1" height="56.7" fill="#c0c0c0" stroke="#000" stroke-width="1.12"/>
<path d="M360.5 207.3V227.5M358.5 207.3H362.5" fill="none" stroke="#383838" stroke-width="0.95"/>
<path d="M371.5 198.7V249.6M369.5 198.7H373.5M369.5 249.6H373.5" fill="none" stroke="#383838" stroke-width="0.95"/>
<path d="M382.5 245.4V274.3M380.5 245.4H384.5M380.5 274.3H384.5" fill="none" stroke="#383838" stroke-width="0.95"/>
<path d="M393.5 234.4V269.5M391.5 234.4H395.5M391.5 269.5H395.5" fill="none" stroke="#383838" stroke-width="0.95"/>
<text class="t" x="377.9" y="171.5">Ets1</text>
</g>
<text class="p" x="1.2" y="13.6" font-size="18">A</text>
<text class="p" x="0.3" y="169.6" font-size="17.3">B</text>
<text class="p" x="159.1" y="173.9" font-size="16.6">C</text>
<text class="p" x="243.5" y="175" font-size="17">D</text>
<rect x="413.9" y="199.6" width="7.8" height="7.8" fill="#000000" stroke="#222" stroke-width="0.8"/>
<text class="l" x="425.1" y="206.9">MigR1</text>
<rect x="413.9" y="222.7" width="7.8" height="7.8" fill="#808080" stroke="#222" stroke-width="0.8"/>
<text class="l" x="425.1" y="230">MigR1-G1-WT</text>
<rect x="413.9" y="246.5" width="7.8" height="7.8" fill="#ffffff" stroke="#222" stroke-width="0.8"/>
<text class="l" x="425.1" y="253.8">MigR1-G1s</text>
<rect x="413.9" y="269.6" width="7.8" height="7.8" fill="#c0c0c0" stroke="#222" stroke-width="0.8"/>
<text class="l" x="425.1" y="276.9">MigR1-G1V205G</text>
</svg>
</body></html>
